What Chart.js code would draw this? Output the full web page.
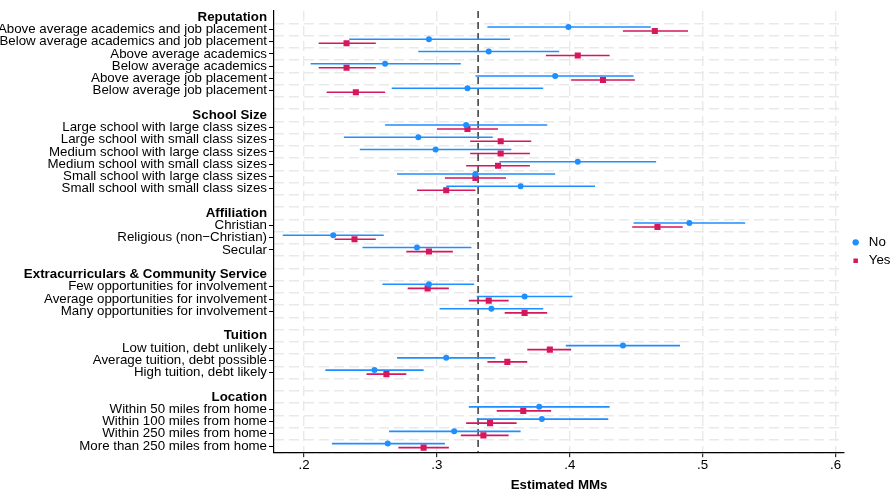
<!DOCTYPE html>
<html>
<head>
<meta charset="utf-8">
<script src="https://cdn.jsdelivr.net/npm/chart.js@4"></script>
<style>
  html, body { margin: 0; padding: 0; background: #fff; }
  #wrap { width: 896px; height: 492px; }
</style>
</head>
<body>
<div id="wrap"><canvas id="chart"></canvas></div>
<script>
const groups = ['Reputation', 'School Size', 'Affiliation', 'Extracurriculars & Community Service', 'Tuition', 'Location'];
const levels = [
  ['Above average academics and job placement', 'Below average academics and job placement', 'Above average academics',
   'Below average academics', 'Above average job placement', 'Below average job placement'],
  ['Large school with large class sizes', 'Large school with small class sizes', 'Medium school with large class sizes',
   'Medium school with small class sizes', 'Small school with large class sizes', 'Small school with small class sizes'],
  ['Christian', 'Religious (non\u2212Christian)', 'Secular'],
  ['Few opportunities for involvement', 'Average opportunities for involvement', 'Many opportunities for involvement'],
  ['Low tuition, debt unlikely', 'Average tuition, debt possible', 'High tuition, debt likely'],
  ['Within 50 miles from home', 'Within 100 miles from home', 'Within 250 miles from home', 'More than 250 miles from home']
];

// marginal means, "No" group
const noEst = [0.399, 0.294, 0.339, 0.261, 0.389, 0.323,  0.322, 0.286, 0.299, 0.406, 0.329, 0.363,
               0.490, 0.222, 0.285,  0.294, 0.366, 0.341,  0.440, 0.307, 0.253,  0.377, 0.379, 0.313, 0.263];
const noLo  = [0.338, 0.234, 0.286, 0.205, 0.329, 0.266,  0.261, 0.230, 0.242, 0.347, 0.270, 0.307,
               0.448, 0.184, 0.244,  0.259, 0.330, 0.302,  0.397, 0.270, 0.216,  0.324, 0.330, 0.264, 0.221];
const noHi  = [0.461, 0.355, 0.392, 0.318, 0.448, 0.380,  0.383, 0.342, 0.356, 0.465, 0.389, 0.419,
               0.532, 0.260, 0.326,  0.328, 0.402, 0.380,  0.483, 0.344, 0.290,  0.430, 0.429, 0.363, 0.306];

// marginal means, "Yes" group
const yesEst = [0.464, 0.232, 0.406, 0.232, 0.425, 0.239,  0.323, 0.348, 0.348, 0.346, 0.329, 0.307,
                0.466, 0.238, 0.294,  0.293, 0.339, 0.366,  0.385, 0.353, 0.262,  0.365, 0.340, 0.335, 0.290];
const yesLo  = [0.440, 0.211, 0.382, 0.211, 0.401, 0.217,  0.300, 0.325, 0.325, 0.322, 0.306, 0.285,
                0.447, 0.223, 0.277,  0.278, 0.324, 0.351,  0.368, 0.338, 0.247,  0.345, 0.322, 0.318, 0.271];
const yesHi  = [0.489, 0.254, 0.430, 0.254, 0.449, 0.261,  0.346, 0.371, 0.370, 0.370, 0.352, 0.329,
                0.485, 0.254, 0.312,  0.309, 0.354, 0.383,  0.401, 0.368, 0.277,  0.386, 0.360, 0.354, 0.309];

const xTicks = [0.2, 0.3, 0.4, 0.5, 0.6];
const refLine = 0.331;

const family = '"Liberation Sans", Arial, Helvetica, sans-serif';
const blue = '#1e8fff';
const red = '#d7175d';
const dodgeNo = -0.2;
const dodgeYes = 0.13;

// one row per header, per level, and a spacer between groups
const rows = [];
const rowKind = [];
const levelRow = [];
groups.forEach((g, gi) => {
  if (gi > 0) { rows.push(''); rowKind.push('blank'); }
  rows.push(g); rowKind.push('header');
  levels[gi].forEach(l => {
    levelRow.push(rows.length);
    rows.push(l);
    rowKind.push('level');
  });
});

const points = (est, dodge) => est.map((v, i) => ({ x: v, y: levelRow[i] + dodge }));
const whiskers = (lo, hi, dodge) => lo.flatMap((v, i) => [
  { x: v, y: levelRow[i] + dodge },
  { x: hi[i], y: levelRow[i] + dodge },
  { x: NaN, y: NaN }
]);

const refLinePlugin = {
  id: 'refLine',
  beforeDatasetsDraw(chart) {
    const { ctx, chartArea, scales } = chart;
    const x = scales.x.getPixelForValue(refLine);
    ctx.save();
    ctx.setLineDash([7, 4]);
    ctx.strokeStyle = '#1a1a1a';
    ctx.lineWidth = 1.3;
    ctx.beginPath();
    ctx.moveTo(x, chartArea.top);
    ctx.lineTo(x, chartArea.bottom);
    ctx.stroke();
    ctx.restore();
  }
};

new Chart(document.getElementById('chart'), {
  type: 'line',
  data: {
    datasets: [
      {
        label: 'No', data: points(noEst, dodgeNo), showLine: false,
        pointStyle: 'circle', pointRadius: 3, pointBorderWidth: 0,
        backgroundColor: blue, borderColor: blue, pointBackgroundColor: blue, borderWidth: 0,
        xAxisID: 'x', yAxisID: 'yv'
      },
      {
        label: 'Yes', data: points(yesEst, dodgeYes), showLine: false,
        pointStyle: 'rect', pointRadius: 4.3, pointBorderWidth: 0,
        backgroundColor: red, borderColor: red, pointBackgroundColor: red, borderWidth: 0,
        xAxisID: 'x', yAxisID: 'yv'
      },
      {
        label: 'No CI', data: whiskers(noLo, noHi, dodgeNo),
        borderColor: blue, borderWidth: 1.6, pointRadius: 0, spanGaps: false,
        xAxisID: 'x', yAxisID: 'yv'
      },
      {
        label: 'Yes CI', data: whiskers(yesLo, yesHi, dodgeYes),
        borderColor: red, borderWidth: 1.6, pointRadius: 0, spanGaps: false,
        xAxisID: 'x', yAxisID: 'yv'
      }
    ]
  },
  options: {
    responsive: true,
    maintainAspectRatio: false,
    animation: false,
    events: [],
    layout: { padding: { top: 11, right: -4.5, bottom: 0, left: 0 } },
    plugins: {
      tooltip: { enabled: false },
      legend: {
        position: 'right',
        align: 'center',
        labels: {
          usePointStyle: true,
          boxWidth: 13,
          boxHeight: 4.5,
          padding: 5,
          color: '#000',
          font: { family, size: 13.3 },
          filter: item => item.datasetIndex < 2
        }
      }
    },
    scales: {
      x: {
        type: 'linear',
        min: 0.1774,
        max: 0.6065,
        afterBuildTicks: scale => { scale.ticks = xTicks.map(v => ({ value: v })); },
        grid: { color: '#e9e9e9', lineWidth: 1.4, tickColor: '#000', tickLength: 5, tickWidth: 1 },
        border: { display: true, color: '#000', width: 1.2, dash: [10, 5] },
        ticks: {
          color: '#000', padding: 1.6,
          font: { family, size: 13.3, lineHeight: 1 },
          callback: v => v.toFixed(1).replace(/^0/, '')
        },
        title: {
          display: true, text: 'Estimated MMs', color: '#000',
          font: { family, size: 13.3, weight: 'bold', lineHeight: 1 },
          padding: { top: 5, bottom: 0 }
        }
      },
      y: {
        type: 'category',
        labels: rows,
        offset: true,
        afterFit: scale => { scale.width = 274; },
        grid: {
          offset: false, drawOnChartArea: false, tickLength: 5,
          tickColor: ctx => rowKind[ctx.index] === 'level' ? '#000' : 'rgba(0,0,0,0)'
        },
        border: { display: true, color: '#000', width: 1.2 },
        ticks: {
          autoSkip: false, padding: 2, color: '#000',
          font: ctx => ({ family, size: 13.3, lineHeight: 1, weight: rowKind[ctx.index] === 'header' ? 'bold' : 'normal' })
        }
      },
      yg: {
        type: 'category',
        labels: rows,
        position: 'left',
        offset: true,
        grid: {
          offset: true, drawTicks: false, lineWidth: 1.4,
          color: ctx => ctx.index === 0 ? 'rgba(0,0,0,0)' : '#e9e9e9'
        },
        border: { display: false, dash: [10, 5] },
        ticks: { display: false }
      },
      yv: {
        type: 'linear',
        display: false,
        reverse: true,
        min: -0.5,
        max: rows.length - 0.5
      }
    }
  },
  plugins: [refLinePlugin]
});
</script>
</body>
</html>
